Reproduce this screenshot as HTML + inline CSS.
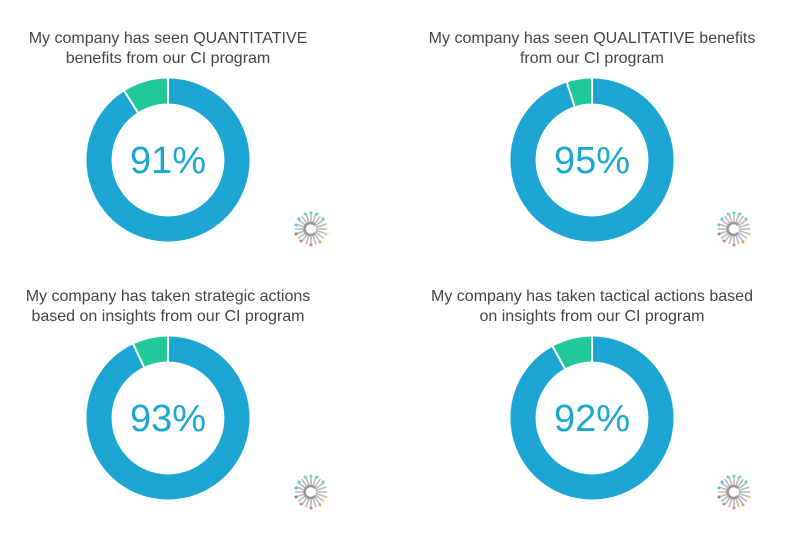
<!DOCTYPE html>
<html><head><style>
body{margin:0;width:790px;height:555px;background:#fff;overflow:hidden;font-family:"Liberation Sans",sans-serif}
.t{position:absolute;width:380px;text-align:center;color:#444;font-size:16px;line-height:20px}
</style></head><body>
<div class="t" style="left:-22px;top:29px">My company has seen QUANTITATIVE<br>benefits from our CI program</div>
<div class="t" style="left:402px;top:29px">My company has seen QUALITATIVE benefits<br>from our CI program</div>
<div class="t" style="left:-22px;top:287px">My company has taken strategic actions<br>based on insights from our CI program</div>
<div class="t" style="left:402px;top:287px">My company has taken tactical actions based<br>on insights from our CI program</div>
<svg width="790" height="555" style="position:absolute;left:0;top:0">
<defs>
<g id="logo">
<g stroke="#bbb" stroke-width="1.6">
<line x1="0" y1="-5" x2="0" y2="-16" transform="rotate(0)"/><line x1="0" y1="-5" x2="0" y2="-16" transform="rotate(18)"/><line x1="0" y1="-5" x2="0" y2="-16" transform="rotate(36)"/><line x1="0" y1="-5" x2="0" y2="-16" transform="rotate(54)"/><line x1="0" y1="-5" x2="0" y2="-16" transform="rotate(72)"/><line x1="0" y1="-5" x2="0" y2="-16" transform="rotate(90)"/><line x1="0" y1="-5" x2="0" y2="-16" transform="rotate(108)"/><line x1="0" y1="-5" x2="0" y2="-16" transform="rotate(126)"/><line x1="0" y1="-5" x2="0" y2="-16" transform="rotate(144)"/><line x1="0" y1="-5" x2="0" y2="-16" transform="rotate(162)"/><line x1="0" y1="-5" x2="0" y2="-16" transform="rotate(180)"/><line x1="0" y1="-5" x2="0" y2="-16" transform="rotate(198)"/><line x1="0" y1="-5" x2="0" y2="-16" transform="rotate(216)"/><line x1="0" y1="-5" x2="0" y2="-16" transform="rotate(234)"/><line x1="0" y1="-5" x2="0" y2="-16" transform="rotate(252)"/><line x1="0" y1="-5" x2="0" y2="-16" transform="rotate(270)"/><line x1="0" y1="-5" x2="0" y2="-16" transform="rotate(288)"/><line x1="0" y1="-5" x2="0" y2="-16" transform="rotate(306)"/><line x1="0" y1="-5" x2="0" y2="-16" transform="rotate(324)"/><line x1="0" y1="-5" x2="0" y2="-16" transform="rotate(342)"/>
</g>
<circle cx="0" cy="-16" r="1.5" fill="#6cd3a8"/><circle cx="6" cy="-15" r="1.5" fill="#6cd3a8"/><circle cx="-6" cy="-15" r="1.5" fill="#6cd3a8"/><circle cx="-12" cy="-10" r="1.5" fill="#5bc0de"/><circle cx="-15" cy="-4" r="1.5" fill="#5bc0de"/><circle cx="-15" cy="5" r="1.5" fill="#888"/><circle cx="-10" cy="12" r="1.5" fill="#c88"/><circle cx="0" cy="16" r="1.5" fill="#e77"/><circle cx="9" cy="13" r="1.5" fill="#e96"/><circle cx="15" cy="5" r="1.5" fill="#fc6"/><circle cx="12" cy="-10" r="1.5" fill="#6cd3a8"/>
<path d="M4 -4 A6 6 0 1 0 4 4" fill="none" stroke="#999" stroke-width="2.5"/>
</g>
</defs>
<g font-size="38" fill="#1ba7d2" text-anchor="middle">
<g transform="translate(168,160)">
<circle r="69" fill="none" stroke="#21c998" stroke-width="25"/>
<circle r="69" fill="none" stroke="#1da6d3" stroke-width="25" stroke-dasharray="394.5 500" transform="rotate(-90)"/>
<line x1="0" y1="-56" x2="0" y2="-82" stroke="#fff" stroke-width="2"/><line x1="0" y1="-56" x2="0" y2="-82" stroke="#fff" stroke-width="2" transform="rotate(-32.4)"/>
<text y="13">91%</text></g>
<g transform="translate(592,160)">
<circle r="69" fill="none" stroke="#21c998" stroke-width="25"/>
<circle r="69" fill="none" stroke="#1da6d3" stroke-width="25" stroke-dasharray="411.8 500" transform="rotate(-90)"/>
<line x1="0" y1="-56" x2="0" y2="-82" stroke="#fff" stroke-width="2"/><line x1="0" y1="-56" x2="0" y2="-82" stroke="#fff" stroke-width="2" transform="rotate(-18)"/>
<text y="13">95%</text></g>
<g transform="translate(168,418)">
<circle r="69" fill="none" stroke="#21c998" stroke-width="25"/>
<circle r="69" fill="none" stroke="#1da6d3" stroke-width="25" stroke-dasharray="403.2 500" transform="rotate(-90)"/>
<line x1="0" y1="-56" x2="0" y2="-82" stroke="#fff" stroke-width="2"/><line x1="0" y1="-56" x2="0" y2="-82" stroke="#fff" stroke-width="2" transform="rotate(-25.2)"/>
<text y="13">93%</text></g>
<g transform="translate(592,418)">
<circle r="69" fill="none" stroke="#21c998" stroke-width="25"/>
<circle r="69" fill="none" stroke="#1da6d3" stroke-width="25" stroke-dasharray="398.8 500" transform="rotate(-90)"/>
<line x1="0" y1="-56" x2="0" y2="-82" stroke="#fff" stroke-width="2"/><line x1="0" y1="-56" x2="0" y2="-82" stroke="#fff" stroke-width="2" transform="rotate(-28.8)"/>
<text y="13">92%</text></g>
</g>
<use href="#logo" transform="translate(311,229)"/>
<use href="#logo" transform="translate(734,229)"/>
<use href="#logo" transform="translate(311,492)"/>
<use href="#logo" transform="translate(734,492)"/>
</svg>
</body></html>
